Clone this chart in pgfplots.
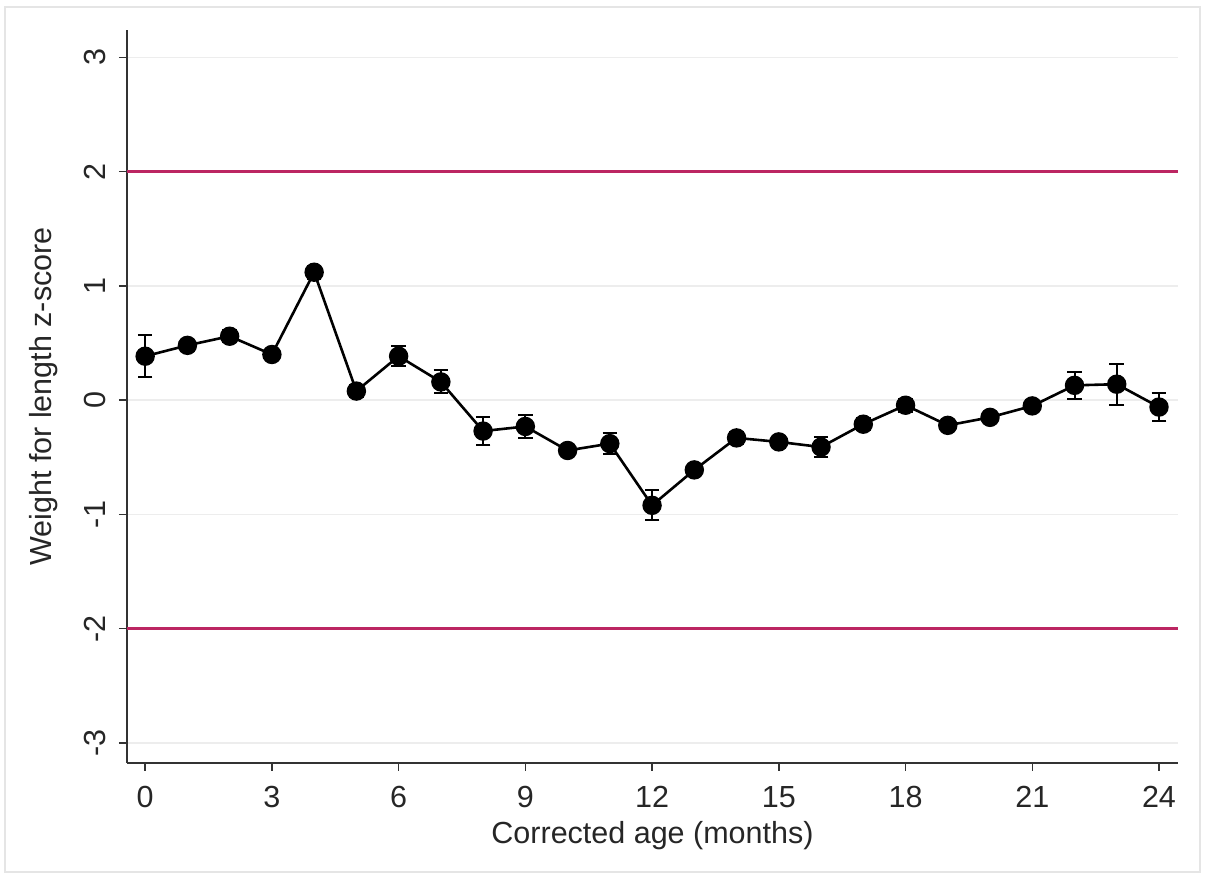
\documentclass[border=0pt]{standalone}
\usepackage{fontspec}
\setmainfont{Liberation Sans}
\usepackage{pgfplots}
\usepackage{pgfplotstable}
\pgfplotsset{compat=1.18}
\definecolor{refline}{RGB}{188,38,98}
\pgfplotstableread{
x y e
0 0.385 0.185
1 0.48 0.05
2 0.56 0.055
3 0.40 0.04
4 1.12 0.055
5 0.08 0.05
6 0.385 0.085
7 0.16 0.10
8 -0.27 0.12
9 -0.23 0.10
10 -0.44 0.04
11 -0.38 0.09
12 -0.92 0.13
13 -0.61 0.04
14 -0.33 0.055
15 -0.365 0.05
16 -0.41 0.09
17 -0.21 0.055
18 -0.044 0.055
19 -0.22 0.04
20 -0.15 0.04
21 -0.05 0.04
22 0.13 0.12
23 0.14 0.18
24 -0.06 0.12
}\datatable
\begin{document}
\begin{tikzpicture}
\path (0pt,0pt) rectangle (1205pt,877pt);
\draw[black!10, line width=1.5pt] (5pt,5pt) rectangle (1200pt,870pt);
\begin{axis}[
  at={(127pt,114pt)}, anchor=south west,
  scale only axis, width=1051pt, height=733pt,
  xmin=-0.43, xmax=24.45, ymin=-3.175, ymax=3.24,
  axis x line*=bottom, axis y line*=left,
  axis line style={-, line width=1.6pt, black!80},
  xtick={0,3,...,24}, ytick={-3,-2,...,3},
  tick align=outside, major tick length=8pt,
  tick style={line width=1.5pt, black!80},
  /pgf/number format/assume math mode=true,
  ticklabel style={font=\fontsize{30.5}{36}\selectfont, text=black!85},
  y tick label style={rotate=90, anchor=south, inner sep=13pt},
  x tick label style={inner sep=15pt},
  label style={font=\fontsize{30.5}{36}\selectfont, text=black!85},
  xlabel={Corrected age (months)},
  ylabel={Weight for length z-score},
  xlabel style={inner sep=0pt, yshift=2pt},
  ylabel style={inner sep=0pt, yshift=13pt},
  ymajorgrids, grid style={black!7, line width=1.5pt},
  clip=false,
]
\addplot[refline, line width=2.5pt] coordinates {(-0.43,2) (24.45,2)};
\addplot[refline, line width=2.5pt] coordinates {(-0.43,-2) (24.45,-2)};
\addplot[black, line width=2.6pt, mark=*, mark size=8.4pt,
  mark options={solid},
  error bars/.cd, y dir=both, y explicit,
  error bar style={line width=2pt, black},
  error mark options={rotate=90, mark size=7.3pt, line width=2pt, black}]
  table[x=x, y=y, y error=e]{\datatable};
\end{axis}
\end{tikzpicture}
\end{document}
